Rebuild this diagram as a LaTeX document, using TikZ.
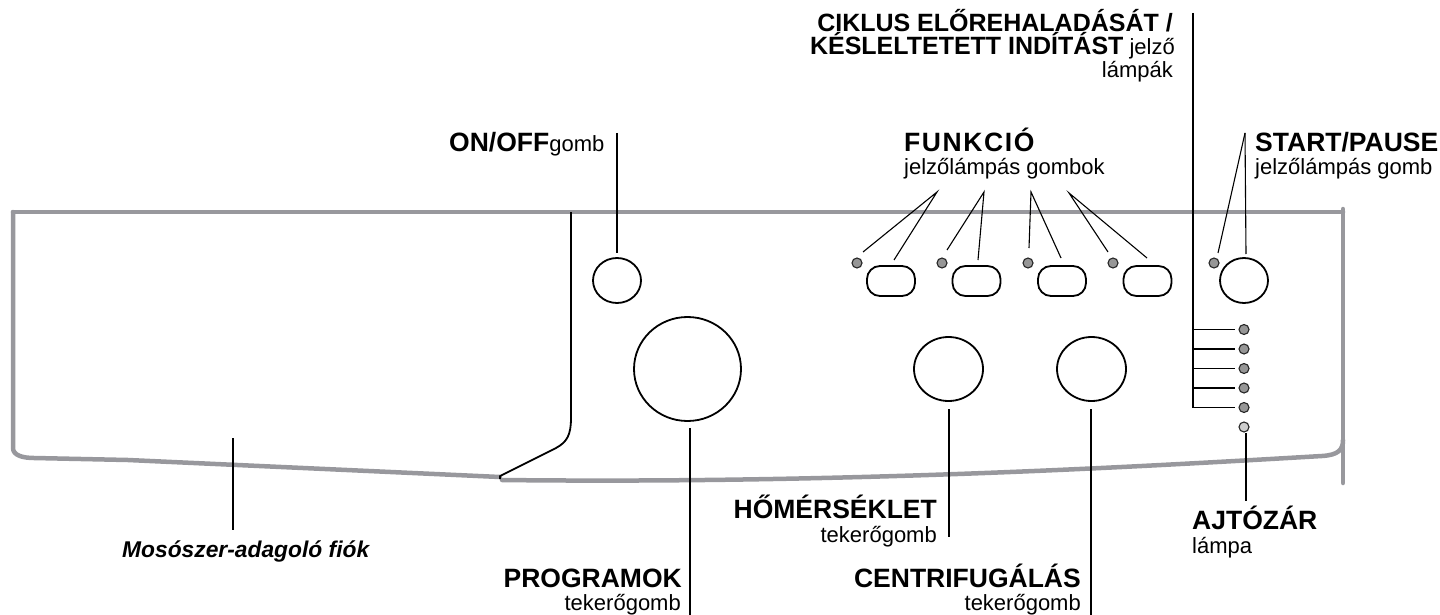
\documentclass[tikz,border=0pt]{standalone}
\usepackage{fontspec}
\setmainfont{Liberation Sans}
\newfontfamily\spacedfont[LetterSpace=6]{Liberation Sans}
\usetikzlibrary{shapes.geometric}
\definecolor{panelgray}{RGB}{152,152,157}
\definecolor{lampgray}{RGB}{150,150,150}
\definecolor{lamplight}{RGB}{205,205,205}
\begin{document}
\begin{tikzpicture}[x=1pt,y=-1pt,
  panel/.style={draw=panelgray, line width=4.5pt, line join=round, line cap=round},
  divider/.style={draw=black, line width=1.8pt, line join=round},
  knob/.style={ellipse, draw=black, line width=1.8pt, inner sep=0pt},
  fbutton/.style={rectangle, rounded corners=13pt, draw=black, line width=1.8pt, minimum width=48pt, minimum height=30pt, inner sep=0pt},
  lamp/.style={circle, draw=black!85, line width=1.1pt, fill=lampgray, minimum size=10pt, inner sep=0pt},
  leader/.style={draw=black, line width=1.1pt},
  boldlbl/.style={inner sep=0pt, font=\fontsize{26.5}{26.5}\selectfont\bfseries},
  ciklbl/.style={inner sep=0pt, font=\fontsize{25}{25}\selectfont\bfseries},
  reglbl/.style={inner sep=0pt, font=\fontsize{22}{22}\selectfont}
]
\useasboundingbox (0,0) rectangle (1440,615);

% panel outline
\draw[panel] (13,212) -- (1343,212);
\draw[panel] (1343,209) -- (1343,483);
\draw[panel] (13,212) -- (13,448) .. controls (13,455) and (22,458) .. (34,458) -- (128,460) -- (500,477);
\draw[panel] (502,480) .. controls (850,484) and (1150,466) .. (1322,456) .. controls (1338,455) and (1343,450) .. (1343,440);

% drawer divider
\draw[divider] (571,212) -- (571,418) .. controls (571,435) and (567,442) .. (556,448) -- (500,476) -- (500,479);

% knobs and buttons
\node[knob, minimum width=48pt, minimum height=45pt] (onoff) at (617,280.5) {};
\node[knob, minimum width=107pt, minimum height=104pt] (prog) at (687.5,369) {};
\node[knob, minimum width=69pt, minimum height=64pt] (temp) at (948.5,369) {};
\node[knob, minimum width=69pt, minimum height=64pt] (spin) at (1091.5,369) {};
\node[knob, minimum width=48pt, minimum height=45pt] (start) at (1244,280.5) {};

\node[fbutton] (f1) at (891,281) {};
\node[fbutton] (f2) at (976.5,281) {};
\node[fbutton] (f3) at (1062,281) {};
\node[fbutton] (f4) at (1147.5,281) {};

\node[lamp] (l1) at (857,263) {};
\node[lamp] (l2) at (942,263) {};
\node[lamp] (l3) at (1028,263) {};
\node[lamp] (l4) at (1113,263) {};
\node[lamp] (ls) at (1214,263) {};

\node[lamp] (c1) at (1244,329.5) {};
\node[lamp] (c2) at (1244,349) {};
\node[lamp] (c3) at (1244,368.5) {};
\node[lamp] (c4) at (1244,388) {};
\node[lamp] (c5) at (1244,407.5) {};
\node[lamp, fill=lamplight] (door) at (1244,427) {};

% labels
\node[ciklbl, anchor=base east] (cik1) at (1173,32) {CIKLUS ELŐREHALADÁSÁT /};
\node[ciklbl, anchor=base east] (cik2) at (1175,55) {KÉSLELTETETT INDÍTÁST\fontsize{22}{22}\selectfont\mdseries{} jelző};
\node[reglbl, anchor=base east] (cik3) at (1173,78) {lámpák};

\node[boldlbl, anchor=base west] (onofflbl) at (449,152) {ON/OFF\fontsize{22}{22}\selectfont\mdseries gomb};

\node[inner sep=0pt, anchor=base west, font=\fontsize{26.5}{26.5}\spacedfont\bfseries] (funklbl) at (904,152) {FUNKCIÓ};
\node[reglbl, anchor=base west] (funksub) at (904,174) {jelzőlámpás gombok};

\node[boldlbl, anchor=base west] (startlbl) at (1255,152) {START/PAUSE};
\node[reglbl, anchor=base west] (startsub) at (1255,174) {jelzőlámpás gomb};

\node[inner sep=0pt, anchor=base west, font=\fontsize{22.8}{23}\selectfont\bfseries\itshape] (drawerlbl) at (122,557) {Mosószer-adagoló fiók};

\node[boldlbl, anchor=base east] (proglbl) at (682,587) {PROGRAMOK};
\node[reglbl, anchor=base east] (progsub) at (681,610) {tekerőgomb};

\node[boldlbl, anchor=base east] (templbl) at (937,518) {HŐMÉRSÉKLET};
\node[reglbl, anchor=base east] (tempsub) at (937,542) {tekerőgomb};

\node[boldlbl, anchor=base east] (spinlbl) at (1081,587) {CENTRIFUGÁLÁS};
\node[reglbl, anchor=base east] (spinsub) at (1081,610) {tekerőgomb};

\node[boldlbl, anchor=base west] (doorlbl) at (1192,529) {AJTÓZÁR};
\node[reglbl, anchor=base west] (doorsub) at (1192,553) {lámpa};

% leader coordinates
\coordinate (onoffT) at (617,133);
\coordinate (onoffB) at (617,253);
\coordinate (progT) at (690,428);
\coordinate (progB) at (690,615);
\coordinate (tempT) at (949,409);
\coordinate (tempB) at (949,537);
\coordinate (spinT) at (1091,409);
\coordinate (spinB) at (1091,615);
\coordinate (doorT) at (1246,433);
\coordinate (doorB) at (1246,501);
\coordinate (startT) at (1245,133);
\coordinate (startL) at (1218,253);
\coordinate (startB) at (1246,254);
\coordinate (cikT) at (1193,13);
\coordinate (cikB) at (1193,408);
\coordinate (drawT) at (233,438);
\coordinate (drawB) at (233,530);
\coordinate (a1) at (937,192);
\coordinate (a2) at (984,192);
\coordinate (a3) at (1031,192);
\coordinate (a4) at (1069,193);
\coordinate (d1) at (863,252);
\coordinate (b1) at (894,260);
\coordinate (d2) at (947,250);
\coordinate (b2) at (978,260);
\coordinate (d3) at (1029,248);
\coordinate (b3) at (1061,258);
\coordinate (d4) at (1108,252);
\coordinate (b4) at (1147,258);

\draw[leader] (onoffT) -- (onoffB);
\draw[leader] (progT) -- (progB);
\draw[leader] (tempT) -- (tempB);
\draw[leader] (spinT) -- (spinB);
\draw[leader] (doorT) -- (doorB);
\draw[leader] (startT) -- (startL);
\draw[leader] (startT) -- (startB);
\draw[leader] (drawT) -- (drawB);
\draw[leader] (cikT) -- (cikB);
\foreach \c in {c1,c2,c3,c4,c5}
  \draw[leader] (cikB |- \c) -- ([xshift=-3pt]\c.west);
\draw[leader] (d1) -- (a1) -- (b1);
\draw[leader] (d2) -- (a2) -- (b2);
\draw[leader] (d3) -- (a3) -- (b3);
\draw[leader] (d4) -- (a4) -- (b4);
\end{tikzpicture}
\end{document}
